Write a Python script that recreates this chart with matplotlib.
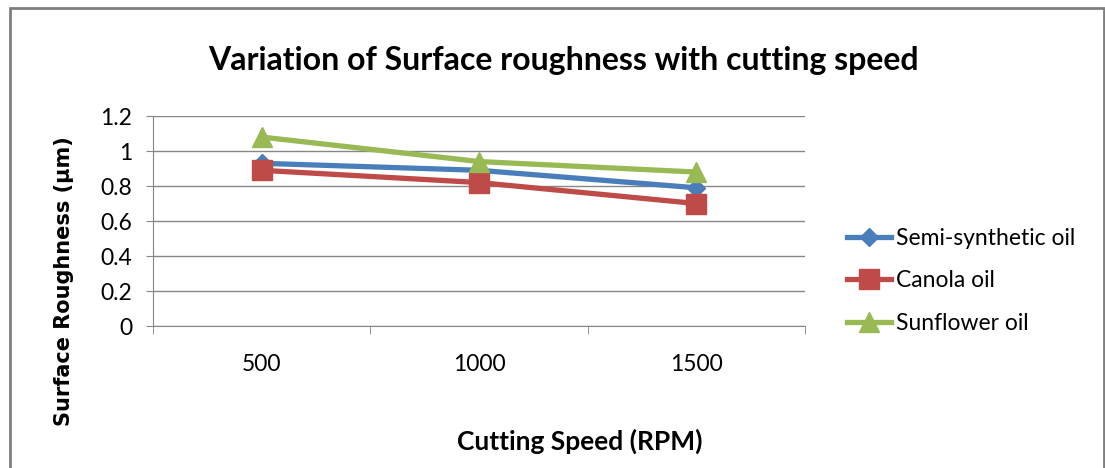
import numpy as np
import matplotlib.pyplot as plt
from matplotlib.patches import Rectangle

# Данные
speeds = ["500", "1000", "1500"]
semi_synthetic = [0.93, 0.89, 0.79]
canola = [0.89, 0.82, 0.70]
sunflower = [1.08, 0.94, 0.88]
y_ticks = [0, 0.2, 0.4, 0.6, 0.8, 1, 1.2]

font = ["Lato", "DejaVu Sans"]

fig = plt.figure(figsize=(11.05, 4.68), dpi=100)
ax = fig.add_axes([0.1385, 0.3034, 0.59, 0.4486])

# Рамка вокруг диаграммы
fig.patches.append(Rectangle((0.009, -0.02), 0.99, 1.003, transform=fig.transFigure,
                             fill=False, edgecolor="#7f7f7f", linewidth=2))

x = np.arange(len(speeds))
ax.plot(x, semi_synthetic, color="#4A7EBB", lw=3.8, marker="D", ms=9, label="Semi-synthetic oil")
ax.plot(x, canola, color="#BE4B48", lw=3.8, marker="s", ms=14, label="Canola oil")
ax.plot(x, sunflower, color="#98B954", lw=3.8, marker="^", ms=15, label="Sunflower oil")

ax.set_xlim(-0.5, len(speeds) - 0.5)
ax.set_ylim(0, 1.2)
ax.set_yticks(y_ticks)
ax.set_yticklabels([f"{v:g}" for v in y_ticks])
ax.set_xticks(x)
ax.set_xticklabels(speeds)
ax.set_xticks(np.arange(-0.5, len(speeds)), minor=True)
ax.tick_params(axis="x", which="major", length=0, pad=20)
ax.tick_params(axis="x", which="minor", length=6, color="#868686", direction="out")
ax.tick_params(axis="y", length=5, color="#868686", pad=10)
for lab in ax.get_xticklabels() + ax.get_yticklabels():
    lab.set_fontfamily(font)
    lab.set_fontsize(16.5)
ax.grid(axis="y", color="#868686", lw=1)
ax.set_axisbelow(True)
for s in ["top", "right"]:
    ax.spines[s].set_visible(False)
for s in ["left", "bottom"]:
    ax.spines[s].set_color("#868686")

fig.text(0.51, 0.87, "Variation of Surface roughness with cutting speed",
         ha="center", va="center", fontsize=23, fontweight="bold", family=font)
fig.text(0.525, 0.058, "Cutting Speed (RPM)", ha="center", va="center",
         fontsize=19, fontweight="bold", family=font)
fig.text(0.058, 0.40, "Surface Roughness (µm)", ha="center", va="center",
         rotation=90, fontsize=15, fontweight="bold", family=["DejaVu Sans"])

leg = fig.legend(loc="center left", bbox_to_anchor=(0.748, 0.40), frameon=False,
                 prop={"family": font, "size": 16.5}, labelspacing=0.95,
                 handlelength=1.9, handletextpad=0.25)

fig.savefig("out.png", dpi=100)
